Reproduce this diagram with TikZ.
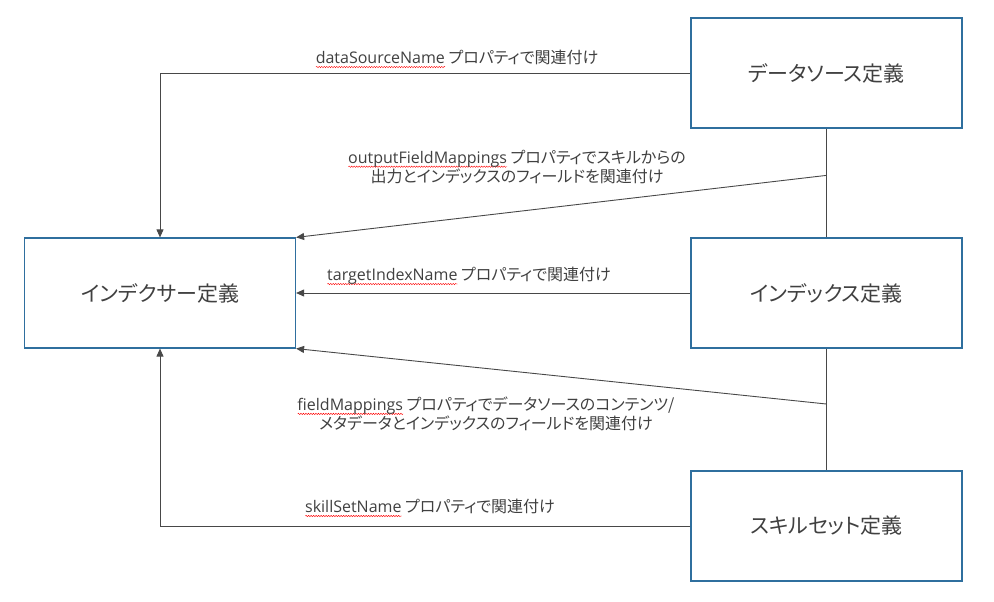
\documentclass[tikz,border=0pt]{standalone}
\usepackage{fontspec}
\setmainfont{Noto Sans CJK JP}[RawFeature=+palt]
\newfontfamily\latinfont{Open Sans}
\usepackage{xcolor}
\usepackage{tikz}
\usetikzlibrary{arrows.meta,calc,decorations.pathmorphing}

\definecolor{boxblue}{RGB}{47,111,158}
\definecolor{inkgray}{RGB}{64,64,64}
\definecolor{linegray}{RGB}{72,72,72}

\newcommand{\propword}[1]{%
    \setbox0=\hbox{\latinfont #1}%
    \rlap{\tikz[baseline=0pt,x=1pt,y=1pt]\draw[
            red,
            line width=0.4pt,
            decorate,
            decoration={snake,amplitude=0.7pt,segment length=2.5pt}
        ] (0,-3.5) -- (\the\wd0,-3.5);}%
    \box0\relax}

\begin{document}
\begin{tikzpicture}[
                    x=1pt,
                    y=-1pt,
                    defbox/.style={
                        draw=boxblue,
                        line width=1.2pt,
                        minimum width=271pt,
                        minimum height=110pt,
                        inner sep=0pt,
                        text=inkgray,
                        font=\fontsize{21}{25}\selectfont
                    },
                    link/.style={
                        draw=linegray,
                        line width=0.9pt,
                        -{Triangle[length=8pt,width=7pt]}
                    },
                    joint/.style={
                        draw=linegray,
                        line width=0.9pt
                    },
                    note/.style={
                        text=inkgray,
                        inner sep=0pt,
                        align=center,
                        font=\fontsize{16}{19.5}\selectfont
                    }
                ]
                \useasboundingbox (0,0) rectangle (994,602);

                % definitions
                \node[defbox] (ds) at (826.5,73) {データソース定義};
                \node[defbox] (idx) at (826.5,293) {インデックス定義};
                \node[defbox] (sk) at (826.5,526) {スキルセット定義};
                \node[defbox] (ixr) at (160,293) {インデクサー定義};

                % side links
                \draw[joint] (ds.south) -- (idx.north);
                \draw[joint] (idx.south) -- (sk.north);
                \coordinate (outj) at ($(ds.south)!0.43!(idx.north)$);
                \coordinate (fmj) at ($(idx.south)!0.455!(sk.north)$);

                \draw[link] (ds.west) -| (ixr.north);
                \draw[link] (outj) -- (ixr.north east);
                \draw[link] (idx.west) -- (ixr.east);
                \draw[link] (fmj) -- (ixr.south east);
                \draw[link] (sk.west) -| (ixr.south);

                % labels
                \node[note] (l1) at (457,59) {\propword{dataSourceName} プロパティで関連付け};
                \node[note] (l2) at (517,167) {\propword{outputFieldMappings} プロパティでスキルからの\\出力とインデックスのフィールドを関連付け};
                \node[note] (l3) at (469,276) {\propword{targetIndexName} プロパティで関連付け};
                \node[note] (l4) at (486,414) {\propword{fieldMappings} プロパティでデータソースのコンテンツ/\\メタデータとインデックスのフィールドを関連付け};
                \node[note] (l5) at (430,508) {\propword{skillSetName} プロパティで関連付け};

            \end{tikzpicture}
\end{document}
